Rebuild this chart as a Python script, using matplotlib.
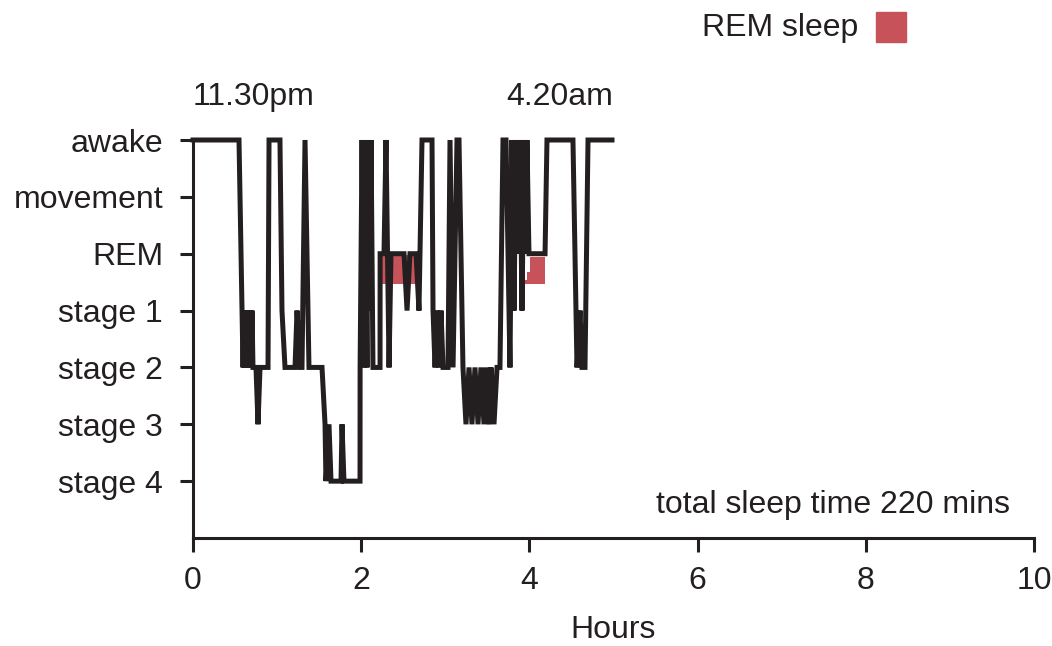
import matplotlib.pyplot as plt

plt.rcParams['font.family'] = ['Liberation Sans', 'DejaVu Sans']

# sleep stages, 0 = stage 4 ... 6 = awake
stage_labels = ['stage 4', 'stage 3', 'stage 2', 'stage 1', 'REM', 'movement', 'awake']

# hypnogram, hours since lights out
hours = [0.000, 0.547, 0.583, 0.595, 0.606, 0.618, 0.642, 0.654, 0.678, 0.690,
         0.702, 0.713, 0.749, 0.773, 0.797, 0.892, 0.904, 1.034, 1.058, 1.094,
         1.213, 1.237, 1.272, 1.296, 1.332, 1.379, 1.534, 1.570, 1.581, 1.617,
         1.641, 1.760, 1.772, 1.795, 1.986, 1.987, 2.010, 2.033, 2.045, 2.069,
         2.081, 2.105, 2.117, 2.140, 2.224, 2.225, 2.271, 2.295, 2.331, 2.354,
         2.509, 2.545, 2.580, 2.652, 2.687, 2.723, 2.842, 2.854, 2.878, 2.901,
         2.925, 2.949, 2.973, 3.032, 3.056, 3.092, 3.139, 3.163, 3.210, 3.246,
         3.282, 3.317, 3.353, 3.389, 3.424, 3.460, 3.484, 3.520, 3.543, 3.579,
         3.615, 3.650, 3.686, 3.722, 3.746, 3.769, 3.793, 3.817, 3.841, 3.864,
         3.888, 3.912, 3.936, 3.960, 3.971, 3.995, 4.186, 4.209, 4.518, 4.566,
         4.602, 4.625, 4.661, 4.697, 4.982]
stage = [6, 6, 3, 2, 3, 2, 3, 2, 3, 2,
         3, 2, 2, 1, 2, 2, 6, 6, 3, 2,
         2, 3, 2, 2, 6, 2, 2, 1, 0, 1,
         0, 0, 1, 0, 0, 2, 6, 2, 6, 2,
         6, 3, 6, 2, 2, 4, 4, 6, 2, 4,
         4, 3, 4, 4, 3, 6, 6, 3, 2, 3,
         2, 3, 2, 2, 6, 2, 6, 6, 2, 1,
         2, 1, 2, 1, 2, 1, 2, 1, 2, 1,
         2, 2, 6, 6, 4, 2, 6, 3, 6, 4,
         6, 3, 6, 4, 6, 4, 4, 6, 6, 2,
         3, 2, 2, 6, 6]

# shaded REM periods
rem_start = [2.247, 3.912, 3.971, 4.007]
rem_end = [2.663, 3.971, 4.007, 4.186]
rem_top = [3.98, 3.54, 3.67, 3.95]
rem_bottom = 3.47

ink = '#231f20'
rem_color = '#c8525a'
fs = 23

fig = plt.figure(figsize=(10.52, 6.46), dpi=100)
ax = fig.add_axes([193 / 1052, 1 - 538 / 646, 841 / 1052, 398 / 646])

ax.bar(rem_start, [t - rem_bottom for t in rem_top],
       width=[e - s for s, e in zip(rem_start, rem_end)], bottom=rem_bottom,
       align='edge', color=rem_color, linewidth=0, zorder=1)
ax.plot(hours, stage, color=ink, lw=3.6, solid_joinstyle='miter', clip_on=False, zorder=2)

ax.set_xlim(0, 10)
ax.set_ylim(-1, 6)
ax.set_xticks([0, 2, 4, 6, 8, 10])
ax.set_yticks(range(7))
ax.set_yticklabels(stage_labels)
for s in ['top', 'right']:
    ax.spines[s].set_visible(False)
for s in ['left', 'bottom']:
    ax.spines[s].set_linewidth(2.2)
    ax.spines[s].set_color(ink)
ax.tick_params(axis='y', length=9.5, width=2.2, pad=12, labelsize=fs, colors=ink)
ax.tick_params(axis='x', length=10, width=2.2, pad=10, labelsize=fs, colors=ink)
ax.set_xlabel('Hours', fontsize=fs, color=ink, labelpad=14)

ax.text(0, 6.75, '11.30pm', ha='left', va='center', fontsize=fs, color=ink)
ax.text(5.0, 6.75, '4.20am', ha='right', va='center', fontsize=fs, color=ink)
ax.text(9.71, -0.42, 'total sleep time 220 mins', ha='right', va='center',
        fontsize=fs, color=ink)

# legend entry in the top right corner
fig.text(858 / 1052, 1 - 28 / 646, 'REM sleep', ha='right', va='center',
         fontsize=fs, color=ink)
fig.patches.append(plt.Rectangle((876 / 1052, 1 - 42 / 646), 30 / 1052, 30 / 646,
                                 transform=fig.transFigure, color=rem_color))

fig.savefig('out.png', dpi=100)
